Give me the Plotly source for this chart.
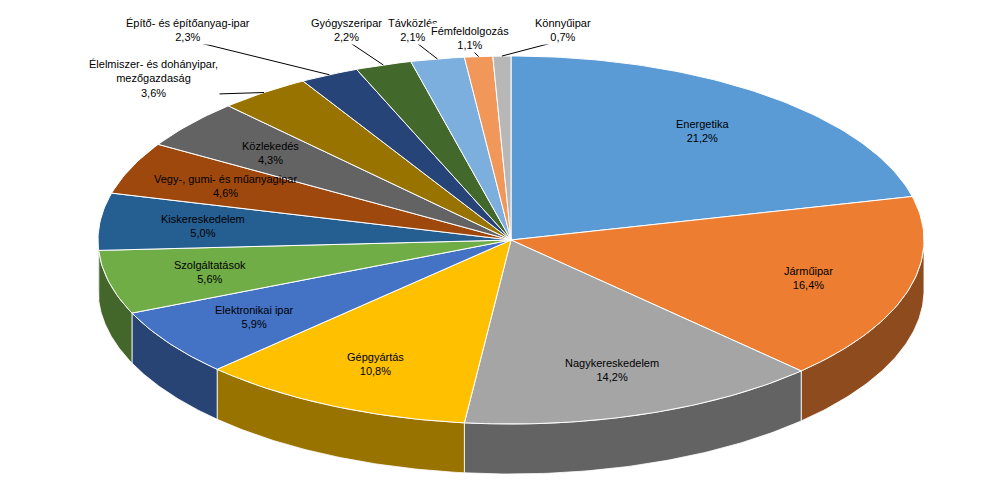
import numpy as np
import plotly.graph_objects as go

labels = ["Energetika","Járműipar","Nagykereskedelem","Gépgyártás","Elektronikai ipar",
          "Szolgáltatások","Kiskereskedelem","Vegy-, gumi- és műanyagipar","Közlekedés",
          "Élelmiszer- és dohányipar,<br>mezőgazdaság","Építő- és építőanyag-ipar","Gyógyszeripar",
          "Távközlés","Fémfeldolgozás","Könnyűipar"]
values = [21.2,16.4,14.2,10.8,5.9,5.6,5.0,4.6,4.3,3.6,2.3,2.2,2.1,1.1,0.7]
colors = ["#5B9BD5","#ED7D31","#A5A5A5","#FFC000","#4472C4","#70AD47","#255E91","#9E480E",
          "#636363","#997300","#264478","#43682B","#7CAFDD","#F1975A","#B7B7B7"]
outside = {9:(145,70),10:(180,22),11:(338,22),12:(405,22),13:(462,30),14:(555,22)}

cx, cy, rx, ry, depth = 503, 232, 413, 184, 50

def dark(h, f=0.6):
    h = h.lstrip("#")
    r, g, b = (int(h[i:i+2], 16) for i in (0, 2, 4))
    return "rgb(%d,%d,%d)" % (r*f, g*f, b*f)

def pt(t, r=1.0, dy=0):
    return cx + rx*r*np.sin(t), cy - ry*r*np.cos(t) + dy

fig = go.Figure()
tot = sum(values)
starts = np.concatenate([[0], np.cumsum(values)[:-1]]) / tot * 2*np.pi
ends = np.cumsum(values) / tot * 2*np.pi

# side walls
for s, e, c in zip(starts, ends, colors):
    a, b = max(s, np.pi/2), min(e, 3*np.pi/2)
    if a >= b:
        continue
    t = np.linspace(a, b, 80)
    x1, y1 = pt(t)
    x2, y2 = pt(t[::-1], dy=depth)
    fig.add_trace(go.Scatter(x=np.r_[x1, x2, x1[0]], y=np.r_[y1, y2, y1[0]], fill="toself",
                             fillcolor=dark(c), line=dict(color="white", width=0.8),
                             mode="lines", hoverinfo="skip", showlegend=False))
# top faces
for s, e, c in zip(starts, ends, colors):
    t = np.linspace(s, e, max(10, int((e-s)*60)))
    x, y = pt(t)
    fig.add_trace(go.Scatter(x=np.r_[cx, x, cx], y=np.r_[cy, y, cy], fill="toself",
                             fillcolor=c, line=dict(color="white", width=1),
                             mode="lines", hoverinfo="skip", showlegend=False))

for i, (lab, v) in enumerate(zip(labels, values)):
    m = (starts[i] + ends[i]) / 2
    txt = f"{lab}<br>{str(v).replace('.', ',')}%"
    if i in outside:
        lx, ly = outside[i]
        ex, ey = pt(m, 1.0)
        fig.add_trace(go.Scatter(x=[lx, ex], y=[ly + (18 if i == 9 else 10), ey], mode="lines",
                                 line=dict(color="black", width=1), hoverinfo="skip", showlegend=False))
        fig.add_annotation(x=lx, y=ly, text=txt, showarrow=False, font=dict(size=11, color="black"),
                           bgcolor="white")
    else:
        x, y = pt(m, 0.75)
        fig.add_annotation(x=x, y=y, text=txt, showarrow=False, font=dict(size=11, color="black"))

fig.update_layout(width=1000, height=500, margin=dict(l=0, r=0, t=0, b=0),
                  plot_bgcolor="white", paper_bgcolor="white",
                  font=dict(family="Liberation Sans, Arial"),
                  xaxis=dict(range=[0, 1000], visible=False, fixedrange=True),
                  yaxis=dict(range=[500, 0], visible=False, fixedrange=True))
fig.write_html("out.html")
